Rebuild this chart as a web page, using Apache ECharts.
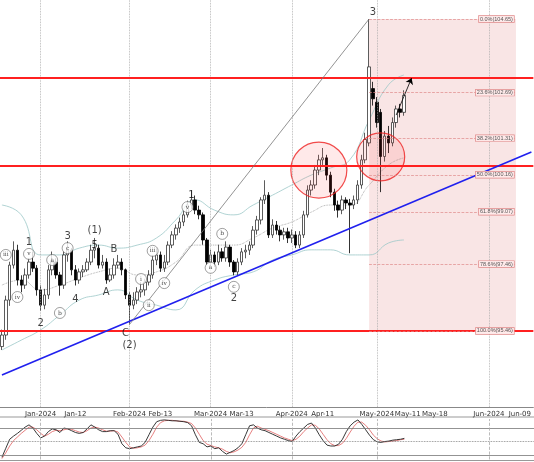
<!DOCTYPE html>
<html><head><meta charset="utf-8">
<script src="https://cdn.jsdelivr.net/npm/echarts@6/dist/echarts.min.js"></script>
<style>html,body{margin:0;padding:0;background:#fff}#c{width:534px;height:462px}</style>
</head><body><div id="c"></div>
<script>
// [open, close, low, high] per trading day from 2023-12-18
const candles = [
[95.0,95.34,94.9,95.5],[95.34,96.37,95.2,96.5],[96.37,97.40,96.2,97.5],[97.40,97.84,97.3,98.1],[97.84,96.96,96.8,98.0],
[96.96,96.81,96.6,97.1],[96.81,97.11,96.7,97.3],[97.11,97.49,97.0,97.6],[97.49,97.31,97.2,97.8],[97.31,96.67,96.5,97.4],
[96.67,96.22,96.05,96.8],[96.22,96.52,96.1,96.7],[96.52,97.26,96.4,97.4],[97.26,97.49,97.1,97.8],[97.49,97.11,97.0,97.6],
[97.11,96.81,96.5,97.2],[96.81,97.70,96.7,97.8],[97.70,97.84,97.5,98.1],[97.84,97.26,97.1,97.9],[97.26,96.96,96.8,97.4],
[96.96,97.20,96.85,97.3],[97.20,97.26,97.05,97.4],[97.26,97.49,97.2,97.6],[97.49,97.84,97.4,98.0],[97.84,97.90,97.6,98.2],
[97.90,97.40,97.3,98.0],[97.40,97.49,97.3,97.7],[97.49,96.96,96.85,97.6],[96.96,97.11,96.9,97.3],[97.11,97.40,97.0,97.6],
[97.40,97.49,97.3,97.7],[97.49,97.26,97.1,97.6],[97.26,96.52,96.4,97.3],[96.52,96.22,95.65,96.6],[96.22,96.37,96.1,96.6],
[96.37,96.61,96.25,96.75],[96.61,96.67,96.45,96.9],[96.67,96.90,96.5,97.0],[96.90,97.11,96.8,97.25],[97.11,97.55,97.0,97.7],
[97.55,97.70,97.4,97.9],[97.70,97.31,97.2,97.8],[97.31,97.49,97.2,97.7],[97.49,97.99,97.4,98.1],[97.99,98.29,97.9,98.4],
[98.29,98.49,98.15,98.6],[98.49,98.67,98.35,98.8],[98.67,98.88,98.55,99.0],[98.88,99.17,98.8,99.3],[99.17,99.32,99.05,99.6],
[99.32,99.02,98.9,99.45],[99.02,98.88,98.75,99.15],[98.88,98.14,98.0,98.95],[98.14,97.49,97.4,98.2],[97.49,97.70,97.35,97.85],
[97.70,97.49,97.35,97.8],[97.49,97.79,97.4,98.0],[97.79,97.61,97.5,97.9],[97.61,97.93,97.5,98.1],[97.93,97.49,97.35,98.0],
[97.49,97.20,97.1,97.55],[97.20,97.49,97.1,97.6],[97.49,97.79,97.4,97.9],[97.79,97.84,97.6,98.0],[97.84,97.99,97.7,98.1],
[97.99,98.43,97.9,98.55],[98.43,98.73,98.3,98.85],[98.73,99.32,98.6,99.4],[99.32,99.46,99.2,99.9],[99.46,98.29,98.2,99.55],
[98.29,98.58,98.2,98.75],[98.58,98.43,98.3,98.7],[98.43,98.29,98.1,98.55],[98.29,98.38,98.15,98.5],[98.38,98.20,98.05,98.5],
[98.20,98.29,98.05,98.45],[98.29,97.99,97.9,98.4],[97.99,98.29,97.9,98.4],[98.29,98.88,98.2,99.0],[98.88,99.61,98.8,99.75],
[99.61,99.76,99.45,99.9],[99.76,100.20,99.65,100.35],[100.20,100.50,100.05,100.65],[100.50,100.56,100.35,100.85],[100.56,100.05,99.9,100.65],
[100.05,99.55,99.4,100.15],[99.55,99.17,99.0,99.65],[99.17,99.02,98.8,99.3],[99.02,99.32,98.9,99.45],[99.32,99.23,99.05,99.4],
[99.23,99.17,97.75,99.35],[99.17,99.32,99.05,99.45],[99.32,99.76,99.2,99.9],[99.76,100.50,99.65,100.65],[100.50,101.10,100.4,101.3],
[101.00,103.24,100.9,104.65],[102.60,102.30,102.1,102.8],[102.20,101.60,101.45,102.35],[101.90,100.60,99.55,102.0],[100.60,101.20,100.45,101.35],
[101.20,101.00,100.7,101.5],[101.00,101.60,100.9,101.75],[101.60,102.00,101.45,102.1],[102.00,101.90,101.75,102.15],[101.90,102.40,101.8,102.55]
];
const bandIdx = [0,5,10,15,20,25,30,35,40,45,50,55,60,65,70,75,80,85,90,95,100,104];
const bandUpper = [99.17,98.88,97.70,97.70,97.90,97.99,97.90,97.99,98.20,98.73,99.32,99.02,98.88,99.17,99.46,99.76,100.05,100.26,100.50,101.67,102.71,103.0];
const bandLower = [94.90,95.19,95.49,95.93,96.37,96.52,96.67,96.37,96.22,96.08,96.67,96.96,97.11,97.20,97.55,97.70,97.85,97.85,97.70,97.70,98.05,98.14];
const bandMid = [96.81,96.96,96.67,96.81,97.02,97.20,97.31,97.11,97.20,97.49,97.99,97.99,97.99,98.20,98.49,98.67,98.96,99.17,99.17,99.76,100.35,100.56];
const stochK = [15,35,55,62,68,75,82,87,80,68,58,62,72,78,76,70,80,78,74,70,68,70,78,87,82,76,72,72,74,74,
66,45,36,34,36,38,40,48,65,82,94,97,98,97,96,96,95,94,92,85,65,48,45,38,40,34,36,28,22,26,
30,36,45,65,85,87,80,76,74,70,66,62,58,55,52,50,62,72,80,88,91,80,65,52,42,40,40,44,55,72,
85,93,98,88,76,64,54,49,48,50,51,53,54,55,57];
const stochD = [12,25,40,52,60,68,75,82,82,76,68,62,66,72,75,74,76,78,77,74,71,70,74,80,82,80,76,73,73,74,
71,60,48,38,35,36,38,42,52,66,82,92,96,97,97,96,95,95,93,90,80,66,52,44,41,38,36,33,28,25,
27,31,37,48,65,80,84,80,77,74,70,66,62,58,55,52,55,62,72,80,87,86,78,66,54,45,41,41,46,57,
71,84,93,93,86,76,64,56,51,49,50,51,52,54,55];
const resistLevels = [102.91, 100.32, 95.46];
const fibLevels = [104.65, 102.48, 101.14, 100.06, 98.97, 97.43, 95.46];
const fibLabels = ['0.0%(104.65)','23.6%(102.69)','38.2%(101.31)','50.0%(100.16)','61.8%(99.07)','78.6%(97.46)','100.0%(95.46)'];
const fibStart = 95, fibEnd = 133;
const blueTrend = [[0,94.16],[137,100.73]];
const grayTrend = [[33,95.65],[95,104.65]];
const arrowPts = [[102,101.82],[106,102.91]];
const redCircles = [[82,100.2,56],[98,100.59,48]];
const waveLabels = [[7,98.08,'1'],[17,98.26,'3'],[24,98.42,'(1)'],[24,97.99,'5'],[29,97.85,'B'],[27,96.61,'A'],
[19,96.40,'4'],[10,95.69,'2'],[32,95.40,'C'],[33,95.02,'(2)'],[49,99.46,'1'],[60,96.43,'2'],[96,104.83,'3']];
const circledLabels = [[1,97.70,'iii'],[7,97.73,'v'],[4,96.46,'iv'],[13,97.55,'a'],[17,97.90,'c'],[15,95.99,'b'],
[36,96.99,'i'],[38,96.22,'ii'],[39,97.82,'iii'],[42,96.87,'iv'],[48,99.11,'v'],[54,97.32,'a'],[57,98.32,'b'],[60,96.76,'c']];
const tickLabels = {'2024-01-01':'Jan-2024','2024-01-12':'Jan-12','2024-02-01':'Feb-2024','2024-02-13':'Feb-13',
'2024-03-01':'Mar-2024','2024-03-13':'Mar-13','2024-04-01':'Apr-2024','2024-04-11':'Apr-11','2024-05-01':'May-2024',
'2024-05-11':'May-11','2024-05-18':'May-18','2024-06-01':'Jun-2024','2024-06-09':'Jun-09'};
const gridDates = ['2024-01-01','2024-02-01','2024-03-01','2024-04-01','2024-05-01','2024-06-01'];

const cats = [];
function fmt(d){return d.toISOString().slice(0,10);}
let d = new Date(Date.UTC(2023,11,18));
while (cats.length < candles.length) { const w=d.getUTCDay(); if(w!==0&&w!==6) cats.push(fmt(d)); d.setUTCDate(d.getUTCDate()+1); }
while (cats.length < 138) { cats.push(fmt(d)); d.setUTCDate(d.getUTCDate()+1); }

const kData = candles.map(c=>[c[0],c[1],c[2],c[3]]);
const band = arr => bandIdx.map((i,k)=>[i,arr[k]]);
const lineSer = (arr,color,type) => ({type:'line',data:band(arr),symbol:'none',smooth:true,silent:true,
  lineStyle:{color,width:0.8,type},z:1});

const chart = echarts.init(document.getElementById('c'));
chart.setOption({
  animation:false,
  grid:[{left:0,right:0,top:0,bottom:55},{left:0,right:0,top:419,height:40.5}],
  xAxis:[
   {type:'category',data:cats,gridIndex:0,boundaryGap:true,
    axisLine:{lineStyle:{color:'#888'}},axisTick:{show:false},
    axisLabel:{interval:(i,v)=>!!tickLabels[v],formatter:v=>tickLabels[v]||'',fontSize:7,color:'#333',margin:4,fontFamily:'DejaVu Sans'},
    splitLine:{show:false}},
   {type:'category',data:cats,gridIndex:1,axisLine:{show:false},axisTick:{show:false},axisLabel:{show:false}}
  ],
  yAxis:[
   {type:'value',min:93.22,max:105.21,gridIndex:0,show:false,splitLine:{show:false}},
   {type:'value',min:10,max:100,gridIndex:1,show:false,splitLine:{show:false}}
  ],
  series:[
   lineSer(bandUpper,'#9cc8c8','solid'),
   lineSer(bandLower,'#9cc8c8','solid'),
   lineSer(bandMid,'#999','dotted'),
   {type:'candlestick',data:kData,barWidth:3,z:3,
    itemStyle:{color:'#fff',color0:'#000',borderColor:'#333',borderColor0:'#000',borderWidth:0.8},
    markArea:{silent:true,itemStyle:{color:'rgba(235,160,160,0.28)'},
      data:[[{coord:[fibStart,fibLevels[0]]},{coord:[fibEnd,fibLevels[6]]}]]},
    markLine:{silent:true,symbol:'none',
      data:[
       ...gridDates.map(g=>({xAxis:g,lineStyle:{color:'#aaa',type:'dotted',width:0.8},label:{show:false}})),
       ...resistLevels.map(v=>({yAxis:v,lineStyle:{color:'#ff2020',width:2,type:'solid'},label:{show:false}})),
       ...fibLevels.map((v,k)=>[{coord:[fibStart,v],lineStyle:{color:'#e08a8a',type:'dashed',width:0.7},
          label:{show:true,position:'insideEnd',distance:2,formatter:fibLabels[k],fontSize:5.5,color:'#555',
           backgroundColor:'rgba(255,235,235,0.95)',borderColor:'#e08a8a',borderWidth:0.7,padding:[0,1]}},
          {coord:[fibEnd,v]}]),
       [{coord:blueTrend[0],lineStyle:{color:'#2020ee',width:1.6,type:'solid'},label:{show:false}},{coord:blueTrend[1]}],
       [{coord:grayTrend[0],lineStyle:{color:'#777',width:0.8,type:'solid'},label:{show:false}},{coord:grayTrend[1]}],
       [{coord:arrowPts[0],symbol:'none',lineStyle:{color:'#000',width:0.8,type:'solid'},label:{show:false}},{coord:arrowPts[1],symbol:'arrow',symbolSize:6}]
      ]}
   },
   {type:'scatter',data:redCircles.map(c=>[c[0],c[1]]),symbolSize:(v,p)=>redCircles[p.dataIndex][2],z:4,silent:true,
    itemStyle:{color:'rgba(255,60,60,0.14)',borderColor:'#ee2020',borderWidth:1.2}},
   {type:'scatter',data:waveLabels.map(w=>[w[0],w[1]]),symbolSize:0,z:6,silent:true,
    label:{show:true,position:'inside',formatter:p=>waveLabels[p.dataIndex][2],fontSize:10,color:'#111',fontFamily:'DejaVu Sans'}},
   {type:'scatter',data:circledLabels.map(w=>[w[0],w[1]]),symbol:'circle',symbolSize:11,z:6,silent:true,
    itemStyle:{color:'#fff',borderColor:'#555',borderWidth:0.7},
    label:{show:true,position:'inside',formatter:p=>circledLabels[p.dataIndex][2],fontSize:6,color:'#222',fontFamily:'DejaVu Serif'}},
   {type:'line',xAxisIndex:1,yAxisIndex:1,data:stochD,symbol:'none',lineStyle:{color:'#e06060',width:0.8},silent:true,
    markLine:{silent:true,symbol:'none',label:{show:false},
      data:[{yAxis:80,lineStyle:{color:'#777',type:'solid',width:0.8}},{yAxis:50,lineStyle:{color:'#777',type:'dotted',width:0.8}},{yAxis:20,lineStyle:{color:'#777',type:'solid',width:0.8}},
        ...gridDates.map(g=>({xAxis:g,lineStyle:{color:'#aaa',type:'dashed',width:0.8}}))]}},
   {type:'line',xAxisIndex:1,yAxisIndex:1,data:stochK,symbol:'none',lineStyle:{color:'#222',width:0.9},silent:true}
  ],
  graphic:[{type:'line',shape:{x1:0,y1:417,x2:534,y2:417},style:{stroke:'#999',lineWidth:1}},
           {type:'line',shape:{x1:0,y1:460.5,x2:534,y2:460.5},style:{stroke:'#999',lineWidth:1}}]
});
</script></body></html>
